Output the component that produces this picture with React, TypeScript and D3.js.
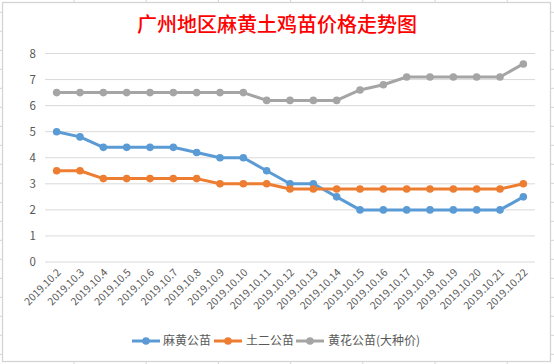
import React from "react";
import * as d3 from "d3";

const categories = [
  "2019.10.2", "2019.10.3", "2019.10.4", "2019.10.5", "2019.10.6", "2019.10.7",
  "2019.10.8", "2019.10.9", "2019.10.10", "2019.10.11", "2019.10.12", "2019.10.13",
  "2019.10.14", "2019.10.15", "2019.10.16", "2019.10.17", "2019.10.18", "2019.10.19",
  "2019.10.20", "2019.10.21", "2019.10.22",
];
const mahuang = [5, 4.8, 4.4, 4.4, 4.4, 4.4, 4.2, 4.0, 4.0, 3.5, 3.0, 3.0, 2.5, 2.0, 2.0, 2.0, 2.0, 2.0, 2.0, 2.0, 2.5];
const tuer = [3.5, 3.5, 3.2, 3.2, 3.2, 3.2, 3.2, 3.0, 3.0, 3.0, 2.8, 2.8, 2.8, 2.8, 2.8, 2.8, 2.8, 2.8, 2.8, 2.8, 3.0];
const huanghua = [6.5, 6.5, 6.5, 6.5, 6.5, 6.5, 6.5, 6.5, 6.5, 6.2, 6.2, 6.2, 6.2, 6.6, 6.8, 7.1, 7.1, 7.1, 7.1, 7.1, 7.6];
const yTicks = [0, 1, 2, 3, 4, 5, 6, 7, 8];
const seriesNames = ["麻黄公苗", "土二公苗", "黄花公苗(大种价)"];
const seriesColors = ["#5B9BD5", "#ED7D31", "#A5A5A5"];
const title = "广州地区麻黄土鸡苗价格走势图";

const W = 554;
const H = 364;
const FONT = "'Noto Sans CJK SC', 'DejaVu Sans', sans-serif";

export default function App() {
  const x = d3.scaleBand<string>().domain(categories).range([45, 535]);
  const y = d3.scaleLinear().domain([0, 8]).range([262, 53.5]);
  const cx = (c: string) => (x(c) as number) + x.bandwidth() / 2;
  const allSeries = [mahuang, tuer, huanghua];
  const line = d3
    .line<number>()
    .x((_, i) => cx(categories[i]))
    .y((d) => y(d));

  const rowLines = d3.range(12.3, H, 19);
  const colLines = d3.range(1, 8).map((i) => 1.8 + i * 72.2);

  const legendItems = [
    { lx: 132, tx: 163 },
    { lx: 214, tx: 246 },
    { lx: 296, tx: 328 },
  ];

  return (
    <svg
      width={W}
      height={H}
      style={{ position: "fixed", left: 0, top: 0, background: "#fff" }}
    >
      {rowLines.map((ry, i) => (
        <g key={"r" + i}>
          <line x1={0} x2={3} y1={ry} y2={ry} stroke="#d4d4d4" />
          <line x1={550} x2={554} y1={ry} y2={ry} stroke="#d4d4d4" />
        </g>
      ))}
      {colLines.map((cxv, i) => (
        <g key={"c" + i}>
          <line x1={cxv} x2={cxv} y1={0} y2={3} stroke="#d4d4d4" />
          <line x1={cxv} x2={cxv} y1={361} y2={364} stroke="#d4d4d4" />
        </g>
      ))}
      <rect x={2.5} y={2.5} width={548} height={359} fill="#fff" stroke="#d4d4d4" strokeWidth={1.3} />

      <text
        x={277}
        y={32}
        textAnchor="middle"
        fill="#FF0000"
        fontSize={20}
        fontWeight={500}
        fontFamily={FONT}
      >
        {title}
      </text>

      {yTicks.map((t) => (
        <g key={"y" + t}>
          <line x1={45} x2={535} y1={y(t)} y2={y(t)} stroke="#D9D9D9" strokeWidth={1} />
          <text
            x={36}
            y={y(t)}
            dy="0.35em"
            textAnchor="end"
            fontSize={11.5}
            fill="#595959"
            fontFamily={FONT}
          >
            {t}
          </text>
        </g>
      ))}

      {categories.map((c) => (
        <text
          key={c}
          transform={`translate(${cx(c) + 5},${273}) rotate(-45)`}
          textAnchor="end"
          fontSize={10.5}
          fill="#595959"
          fontFamily={FONT}
        >
          {c}
        </text>
      ))}

      {allSeries.map((s, si) => (
        <g key={"s" + si}>
          <path
            d={line(s) || ""}
            fill="none"
            stroke={seriesColors[si]}
            strokeWidth={3}
            strokeLinejoin="round"
            strokeLinecap="round"
          />
          {s.map((v, i) => (
            <circle key={i} cx={cx(categories[i])} cy={y(v)} r={3.8} fill={seriesColors[si]} />
          ))}
        </g>
      ))}

      {legendItems.map((it, i) => (
        <g key={"l" + i}>
          <line
            x1={it.lx}
            x2={it.lx + 28}
            y1={341}
            y2={341}
            stroke={seriesColors[i]}
            strokeWidth={3}
          />
          <circle cx={it.lx + 14} cy={341} r={3.8} fill={seriesColors[i]} />
          <text
            x={it.tx}
            y={341}
            dy="0.36em"
            fontSize={12}
            fill="#595959"
            fontFamily={FONT}
          >
            {seriesNames[i]}
          </text>
        </g>
      ))}
    </svg>
  );
}
